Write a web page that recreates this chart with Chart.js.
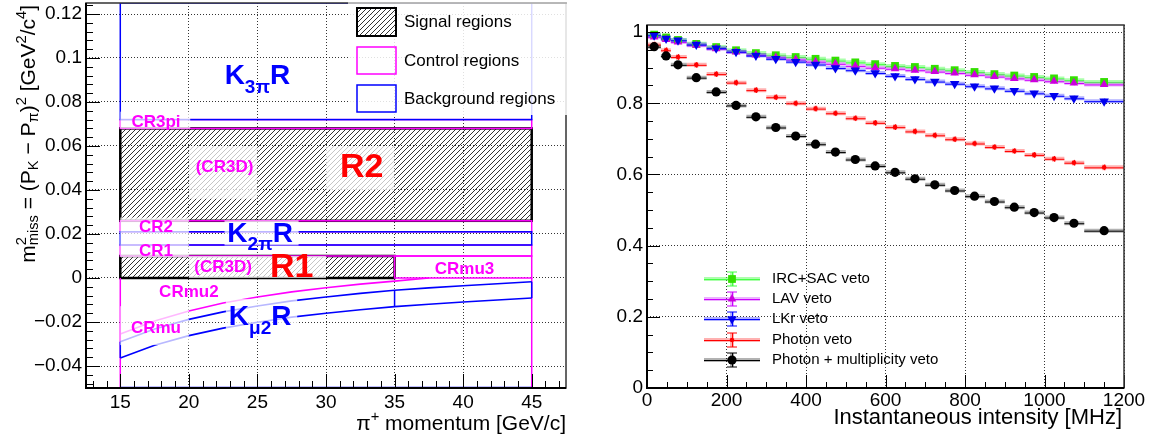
<!DOCTYPE html>
<html>
<head>
<meta charset="utf-8">
<script src="https://cdn.jsdelivr.net/npm/chart.js@4.4.0/dist/chart.umd.min.js"></script>
<style>
  html, body { margin: 0; padding: 0; background: #fff; }
  #wrap { position: relative; width: 1160px; height: 439px; overflow: hidden; }
  .pane { position: absolute; top: 0; width: 580px; height: 439px; }
</style>
</head>
<body>
<div id="wrap">
  <div class="pane" style="left:0"><canvas id="regions" width="580" height="439"></canvas></div>
  <div class="pane" style="left:580px"><canvas id="veto" width="580" height="439"></canvas></div>
</div>
<script>
// ---------------- left panel: signal / control / background regions ----------------
const momentumTicks = [15, 20, 25, 30, 35, 40, 45];
const m2Ticks = [-0.04, -0.02, 0, 0.02, 0.04, 0.06, 0.08, 0.1, 0.12];
const m2TickLabels = ['\u22120.04', '\u22120.02', '0', '0.02', '0.04', '0.06', '0.08', '0.1', '0.12'];

// boxes in (momentum, m2miss)
const regionNames = ['R1', 'R2', 'CR1', 'CR2', 'CR3pi', 'CRmu3', 'K2piR', 'K3piR'];
const regionKinds = ['signal', 'signal', 'control', 'control', 'control', 'control', 'background', 'background'];
const regionPmin = [15, 15, 15, 15, 15, 35, 15, 15];
const regionPmax = [35, 45, 45, 45, 45, 45, 45, 45];
const regionM2min = [0, 0.026, 0.010, 0.021, 0.068, 0, 0.015, 0.072];
const regionM2max = [0.010, 0.068, 0.015, 0.026, 0.072, 0.010, 0.021, 0.125];

// K_mu2 region edges
const curveMomentum = [15, 17.5, 20, 22.5, 25, 27.5, 30, 32.5, 35, 37.5, 40, 42.5, 45];
const kmu2Upper = [-0.0290, -0.0232, -0.0188, -0.0154, -0.0127, -0.0104, -0.0086, -0.0070, -0.0056, -0.0045, -0.0035, -0.0026, -0.0017];
const kmu2Lower = [-0.0364, -0.0306, -0.0262, -0.0228, -0.0201, -0.0178, -0.0160, -0.0144, -0.0130, -0.0119, -0.0109, -0.0100, -0.0091];
const crmuMomentum = [15, 17.5, 20, 22.5, 25, 27.5, 30, 32.5, 35, 37.5];
const crmuEdge = [-0.0255, -0.0195, -0.0150, -0.0114, -0.0086, -0.0063, -0.0044, -0.0028, -0.0014, 0.0];

// ---------------- right panel: random veto efficiency ----------------
const intensityTicks = [0, 200, 400, 600, 800, 1000, 1200];
const effTicks = [0, 0.2, 0.4, 0.6, 0.8, 1];
const effTickLabels = ['0', '0.2', '0.4', '0.6', '0.8', '1'];

const intensity = [18, 48, 78, 124, 174, 224, 274, 324, 374, 424, 474, 524, 574, 624, 674, 724, 774, 824, 874, 924, 974, 1024, 1074, 1150];
const binLow = [0, 35, 60, 100, 150, 200, 250, 300, 350, 400, 450, 500, 550, 600, 650, 700, 750, 800, 850, 900, 950, 1000, 1050, 1100];
const binHigh = [35, 60, 100, 150, 200, 250, 300, 350, 400, 450, 500, 550, 600, 650, 700, 750, 800, 850, 900, 950, 1000, 1050, 1100, 1200];

const effIrcSac = [0.993, 0.985, 0.978, 0.967, 0.958, 0.949, 0.941, 0.935, 0.930, 0.925, 0.920, 0.915, 0.910, 0.905, 0.902, 0.897, 0.893, 0.888, 0.882, 0.878, 0.874, 0.870, 0.865, 0.860];
const effLav = [0.986, 0.979, 0.972, 0.963, 0.953, 0.944, 0.936, 0.929, 0.923, 0.917, 0.911, 0.905, 0.900, 0.897, 0.893, 0.889, 0.885, 0.880, 0.875, 0.870, 0.866, 0.862, 0.857, 0.853];
const effLkr = [0.991, 0.982, 0.977, 0.965, 0.955, 0.945, 0.934, 0.925, 0.917, 0.909, 0.899, 0.893, 0.885, 0.877, 0.868, 0.861, 0.855, 0.848, 0.842, 0.835, 0.828, 0.821, 0.814, 0.806];
const effPhoton = [0.965, 0.949, 0.930, 0.908, 0.882, 0.858, 0.837, 0.817, 0.800, 0.785, 0.772, 0.758, 0.745, 0.733, 0.721, 0.710, 0.699, 0.687, 0.677, 0.666, 0.655, 0.644, 0.633, 0.620];
const effPhotonMult = [0.959, 0.933, 0.908, 0.872, 0.832, 0.794, 0.762, 0.732, 0.708, 0.685, 0.663, 0.642, 0.624, 0.606, 0.588, 0.571, 0.555, 0.539, 0.524, 0.508, 0.493, 0.479, 0.463, 0.442];
const effErr = [0.006, 0.006, 0.007, 0.008, 0.004];

const FONT = '"Liberation Sans", Arial, Helvetica, sans-serif';
const MAG = '#ff00ff', BLU = '#0000ff', RED = '#ff0000';

function font(size, bold) { return (bold ? 'bold ' : '') + size + 'px ' + FONT; }

// text with sub/superscripts; segs are strings or {sup, sub}
function richText(ctx, segs, x, y, size, align, opt) {
  opt = opt || {};
  const small = size * (opt.scale || 0.7);
  const supDy = opt.supDy !== undefined ? opt.supDy : -0.45 * size;
  const subDy = opt.subDy !== undefined ? opt.subDy : 0.15 * size;
  let w = 0;
  const parts = [];
  segs.forEach(sg => {
    if (typeof sg === 'string') {
      ctx.font = font(size, opt.bold);
      parts.push({ t: sg, dx: w, dy: 0, s: size });
      w += ctx.measureText(sg).width;
    } else {
      ctx.font = font(small, opt.bold);
      let mw = 0;
      if (sg.sup) { parts.push({ t: sg.sup, dx: w, dy: supDy, s: small }); mw = Math.max(mw, ctx.measureText(sg.sup).width); }
      if (sg.sub) { parts.push({ t: sg.sub, dx: w, dy: subDy, s: small }); mw = Math.max(mw, ctx.measureText(sg.sub).width); }
      w += mw;
    }
  });
  const x0 = align === 'right' ? x - w : align === 'center' ? x - w / 2 : x;
  parts.forEach(p => { ctx.font = font(p.s, opt.bold); ctx.fillText(p.t, x0 + p.dx, y + p.dy); });
  return w;
}

// ROOT-like frame with inward ticks
function drawFrame(chart, xStep, yStep, majLen, minLen) {
  const { ctx, chartArea: a, scales: { x, y } } = chart;
  const isMajor = (sc, v, st) => sc.ticks.some(t => Math.abs(t.value - v) < st / 10);
  ctx.save();
  ctx.strokeStyle = '#000';
  ctx.lineWidth = 1;
  ctx.beginPath();
  for (let i = Math.ceil(x.min / xStep); i * xStep <= x.max + 1e-9; i++) {
    const v = i * xStep, px = Math.round(x.getPixelForValue(v)) + 0.5;
    ctx.moveTo(px, a.bottom); ctx.lineTo(px, a.bottom - (isMajor(x, v, xStep) ? majLen : minLen));
  }
  for (let i = Math.ceil(y.min / yStep - 1e-9); i * yStep <= y.max + 1e-9; i++) {
    const v = i * yStep, py = Math.round(y.getPixelForValue(v)) + 0.5;
    ctx.moveTo(a.left, py); ctx.lineTo(a.left + (isMajor(y, v, yStep) ? majLen : minLen), py);
  }
  ctx.stroke();
  ctx.strokeStyle = '#333';
  ctx.lineWidth = 1.5;
  ctx.strokeRect(a.left, a.top, a.right - a.left, a.bottom - a.top);
  ctx.strokeStyle = '#000';
  ctx.lineWidth = 2;
  ctx.beginPath();
  ctx.moveTo(a.left, a.top); ctx.lineTo(a.left, a.bottom); ctx.lineTo(a.right, a.bottom);
  ctx.stroke();
  ctx.restore();
}

function makeHatch(ctx) {
  const c = document.createElement('canvas');
  c.width = 5; c.height = 5;
  const g = c.getContext('2d');
  g.strokeStyle = '#1a1a1a';
  g.lineWidth = 0.9;
  g.beginPath();
  g.moveTo(0, 5); g.lineTo(5, 0);
  g.moveTo(-1, 1); g.lineTo(1, -1);
  g.moveTo(4, 6); g.lineTo(6, 4);
  g.stroke();
  return ctx.createPattern(c, 'repeat');
}

// label annotations (momentum, m2miss centre)
const regionLabels = [
  { t: 'K', sub: '3\u03c0', tail: 'R', p: 25.0, m: 0.0915, c: BLU, s: 28 },
  { t: 'CR3pi', p: 17.6, m: 0.0706, c: MAG, s: 17 },
  { t: '(CR3D)', p: 22.6, m: 0.0501, c: MAG, s: 17 },
  { t: 'R2', p: 32.6, m: 0.0500, c: RED, s: 34 },
  { t: 'CR2', p: 17.6, m: 0.0232, c: MAG, s: 17 },
  { t: 'K', sub: '2\u03c0', tail: 'R', p: 25.2, m: 0.0200, c: BLU, s: 28 },
  { t: 'CR1', p: 17.6, m: 0.0123, c: MAG, s: 17 },
  { t: '(CR3D)', p: 22.5, m: 0.0048, c: MAG, s: 17 },
  { t: 'R1', p: 27.5, m: 0.0048, c: RED, s: 34 },
  { t: 'CRmu3', p: 40.1, m: 0.0041, c: MAG, s: 17 },
  { t: 'CRmu2', p: 20.0, m: -0.0064, c: MAG, s: 17 },
  { t: 'CRmu', p: 17.6, m: -0.0230, c: MAG, s: 17 },
  { t: 'K', sub: '\u03bc2', tail: 'R', p: 25.2, m: -0.0180, c: BLU, s: 28 }
];
const labelBoxes = [
  [15, 20.1, 0.0679, 0.0756],
  [20, 25, 0.036, 0.060],
  [30, 35, 0.040, 0.060],
  [15, 20, 0.0095, 0.0275],
  [22.6, 28, 0.0148, 0.0262],
  [20, 25, 0, 0.010],
  [25, 30, 0, 0.010],
  [15, 20, -0.0305, -0.0128],
  [22.7, 27.9, -0.0275, -0.0095]
];

const regionPlugin = {
  id: 'regionPlugin',
  beforeDatasetsDraw(chart) {
    const { ctx, chartArea: a, scales: { x, y } } = chart;
    const hatch = makeHatch(ctx);
    ctx.save();
    ctx.beginPath(); ctx.rect(a.left, a.top, a.right - a.left, a.bottom - a.top); ctx.clip();
    const rectOf = i => {
      const x0 = x.getPixelForValue(regionPmin[i]), x1 = x.getPixelForValue(regionPmax[i]);
      const y0 = y.getPixelForValue(regionM2max[i]), y1 = y.getPixelForValue(regionM2min[i]);
      return [x0, y0, x1 - x0, y1 - y0];
    };
    regionKinds.forEach((k, i) => {
      if (k !== 'signal') return;
      const r = rectOf(i);
      ctx.fillStyle = hatch; ctx.fillRect(...r);
      ctx.strokeStyle = '#000'; ctx.lineWidth = 2.5; ctx.strokeRect(...r);
    });
    ['control', 'background'].forEach(kind => {
      regionKinds.forEach((k, i) => {
        if (k !== kind) return;
        ctx.strokeStyle = kind === 'control' ? MAG : BLU;
        ctx.lineWidth = 1.5;
        ctx.strokeRect(...rectOf(i));
      });
    });
    // edges of the K_mu2 control/background strips
    ctx.strokeStyle = MAG; ctx.lineWidth = 1.5;
    ctx.beginPath();
    [15, 45].forEach(p => { const px = x.getPixelForValue(p); ctx.moveTo(px, y.getPixelForValue(0)); ctx.lineTo(px, a.bottom); });
    ctx.stroke();
    ctx.strokeStyle = BLU;
    ctx.beginPath();
    ctx.moveTo(x.getPixelForValue(15), a.bottom - 0.5); ctx.lineTo(x.getPixelForValue(45), a.bottom - 0.5);
    [0, 8, 12].forEach(j => {
      const px = x.getPixelForValue(curveMomentum[j]);
      ctx.moveTo(px, y.getPixelForValue(kmu2Upper[j])); ctx.lineTo(px, y.getPixelForValue(kmu2Lower[j]));
    });
    ctx.stroke();
    ctx.restore();
  },
  afterDatasetsDraw(chart) {
    const { ctx, scales: { x, y } } = chart;
    ctx.save();
    ctx.fillStyle = 'rgba(255,255,255,0.72)';
    labelBoxes.forEach(b => {
      const x0 = x.getPixelForValue(b[0]), x1 = x.getPixelForValue(b[1]);
      const y0 = y.getPixelForValue(b[3]), y1 = y.getPixelForValue(b[2]);
      ctx.fillRect(x0, y0, x1 - x0, y1 - y0);
    });
    ctx.textBaseline = 'middle';
    regionLabels.forEach(l => {
      ctx.fillStyle = l.c;
      const px = x.getPixelForValue(l.p), py = y.getPixelForValue(l.m);
      const segs = l.sub ? [l.t, { sub: l.sub }, l.tail] : [l.t];
      richText(ctx, segs, px, py, l.s, 'center', { bold: true, subDy: 0.4 * l.s, scale: 0.68 });
    });
    ctx.restore();
  },
  afterDraw(chart) {
    const { ctx } = chart;
    drawFrame(chart, 1, 0.004, 14, 7);
    ctx.save();
    // legend box
    ctx.fillStyle = 'rgba(255,255,255,0.85)';
    ctx.fillRect(348, 0, 219, 115);
    ctx.strokeStyle = '#888'; ctx.lineWidth = 1;
    ctx.beginPath(); ctx.moveTo(348, 3); ctx.lineTo(567, 3); ctx.stroke();
    ctx.fillStyle = makeHatch(ctx);
    ctx.fillRect(357, 8, 39, 28);
    ctx.strokeStyle = '#000'; ctx.lineWidth = 2; ctx.strokeRect(357, 8, 39, 28);
    ctx.strokeStyle = MAG; ctx.lineWidth = 1.5; ctx.strokeRect(357, 47, 39, 27);
    ctx.strokeStyle = BLU; ctx.strokeRect(357, 85, 39, 27);
    ctx.fillStyle = '#000'; ctx.font = font(17); ctx.textBaseline = 'middle';
    ctx.fillText('Signal regions', 404, 22);
    ctx.fillText('Control regions', 404, 61);
    ctx.fillText('Background regions', 404, 99);
    // axis titles
    ctx.textBaseline = 'alphabetic';
    richText(ctx, ['\u03c0', { sup: '+' }, ' momentum [GeV/c]'], 566, 430, 21, 'right');
    ctx.translate(35, 5);
    ctx.rotate(-Math.PI / 2);
    richText(ctx, ['m', { sup: '2', sub: 'miss' }, ' = (P', { sub: 'K' }, ' \u2212 P', { sub: '\u03c0' }, ')', { sup: '2' },
      ' [GeV', { sup: '2' }, '/c', { sup: '4' }, ']'], 0, 0, 21, 'right');
    ctx.restore();
  }
};

const lineSet = (data, xs, color, order) => ({
  data: xs.map((p, i) => ({ x: p, y: data[i] })),
  showLine: true, pointRadius: 0, borderColor: color, borderWidth: 1.6, fill: false, order
});

new Chart(document.getElementById('regions'), {
  type: 'scatter',
  data: {
    datasets: [
      lineSet(crmuEdge, crmuMomentum, MAG, 3),
      lineSet(kmu2Upper, curveMomentum, BLU, 2),
      lineSet(kmu2Lower, curveMomentum, BLU, 1)
    ]
  },
  options: {
    responsive: false, animation: false, devicePixelRatio: 1,
    layout: { padding: { left: 0, right: 14, top: 3, bottom: 0 } },
    plugins: { legend: { display: false }, tooltip: { enabled: false } },
    scales: {
      x: {
        type: 'linear', min: 12.5, max: 47.5,
        afterBuildTicks: s => { s.ticks = momentumTicks.map(v => ({ value: v })); },
        afterFit: s => { s.height = 51; s.paddingLeft = 0; s.paddingRight = 0; },
        ticks: { callback: (v, i) => String(momentumTicks[i]), font: { family: FONT, size: 19 }, color: '#000', padding: 3, maxRotation: 0, autoSkip: false },
        grid: { color: 'rgba(0,0,0,0.8)', lineWidth: 1, drawTicks: false },
        border: { display: false, dash: [1, 2] }
      },
      y: {
        type: 'linear', min: -0.05, max: 0.125,
        afterBuildTicks: s => { s.ticks = m2Ticks.map(v => ({ value: v })); },
        afterFit: s => { s.width = 86; s.paddingTop = 0; s.paddingBottom = 0; },
        ticks: { callback: (v, i) => m2TickLabels[i], font: { family: FONT, size: 19 }, color: '#000', padding: 4, autoSkip: false },
        grid: { color: 'rgba(0,0,0,0.8)', lineWidth: 1, drawTicks: false },
        border: { display: false, dash: [1, 2] }
      }
    }
  },
  plugins: [regionPlugin]
});

// ---------------- right chart ----------------
const vetoSeries = [
  { label: 'IRC+SAC veto', data: effIrcSac, color: '#33e000', line: '#44ff44', band: 'rgba(70,255,70,0.45)', style: 'rect', r: 5.5, rot: 0 },
  { label: 'LAV veto', data: effLav, color: '#cc00dd', line: '#cc00ff', band: 'rgba(210,60,255,0.40)', style: 'triangle', r: 5, rot: 0 },
  { label: 'LKr veto', data: effLkr, color: '#0000ee', line: '#0000ff', band: 'rgba(60,60,255,0.40)', style: 'triangle', r: 5.5, rot: 180 },
  { label: 'Photon veto', data: effPhoton, color: '#ff0000', line: '#ff0000', band: 'rgba(255,60,60,0.40)', style: 'circle', r: 2.3, rot: 0 },
  { label: 'Photon + multiplicity veto', data: effPhotonMult, color: '#000', line: '#000', band: 'rgba(0,0,0,0.30)', style: 'circle', r: 4.6, rot: 0 }
];

function errBar(ctx, s, x0, x1, px, py, e, cap) {
  ctx.strokeStyle = s.band; ctx.lineWidth = 4;
  ctx.beginPath(); ctx.moveTo(x0, py); ctx.lineTo(x1, py); ctx.moveTo(px, py - e); ctx.lineTo(px, py + e); ctx.stroke();
  ctx.strokeStyle = s.line; ctx.lineWidth = 1;
  ctx.beginPath(); ctx.moveTo(x0, py + 0.5); ctx.lineTo(x1, py + 0.5);
  ctx.moveTo(px + 0.5, py - e); ctx.lineTo(px + 0.5, py + e);
  if (cap) { ctx.moveTo(px - cap, py - e); ctx.lineTo(px + cap, py - e); ctx.moveTo(px - cap, py + e); ctx.lineTo(px + cap, py + e); }
  ctx.stroke();
}

const vetoPlugin = {
  id: 'vetoPlugin',
  beforeDatasetsDraw(chart) {
    const { ctx, scales: { x, y } } = chart;
    ctx.save();
    vetoSeries.forEach((s, i) => {
      s.data.forEach((v, j) => {
        const py = y.getPixelForValue(v);
        const e = y.getPixelForValue(v - effErr[i]) - py;
        errBar(ctx, s, x.getPixelForValue(binLow[j]), x.getPixelForValue(binHigh[j]), x.getPixelForValue(intensity[j]), py, e, 0);
      });
    });
    ctx.restore();
  },
  afterDraw(chart) {
    const { ctx } = chart;
    drawFrame(chart, 50, 0.05, 13, 6);
    ctx.save();
    const rows = [279, 299, 319, 340, 360];
    vetoSeries.forEach((s, i) => {
      const yy = rows[i];
      errBar(ctx, s, 124, 180, 152, yy, 7, 5);
      ctx.fillStyle = s.color; ctx.strokeStyle = s.color;
      Chart.helpers.drawPoint(ctx, { pointStyle: s.style, radius: s.r, rotation: s.rot, borderWidth: 0 }, 152, yy);
      ctx.fillStyle = '#000'; ctx.font = font(15); ctx.textBaseline = 'middle';
      ctx.fillText(s.label, 192, yy);
    });
    ctx.textBaseline = 'alphabetic';
    ctx.fillStyle = '#000';
    richText(ctx, ['Instantaneous intensity [MHz]'], 542, 424, 22, 'right');
    ctx.translate(603, 28);
    ctx.rotate(-Math.PI / 2);
    richText(ctx, ['Random veto efficiency, \u03b5', { sub: 'RV' }], 0, 0, 21, 'right');
    ctx.restore();
  }
};

new Chart(document.getElementById('veto'), {
  type: 'scatter',
  data: {
    datasets: vetoSeries.map((s, i) => ({
      label: s.label,
      data: intensity.map((v, j) => ({ x: v, y: s.data[j] })),
      showLine: false,
      pointStyle: s.style, pointRadius: s.r, pointRotation: s.rot,
      pointBackgroundColor: s.color, pointBorderColor: s.color, pointBorderWidth: 0,
      order: 5 - i
    }))
  },
  options: {
    responsive: false, animation: false, devicePixelRatio: 1,
    layout: { padding: { left: 0, right: 36, top: 25, bottom: 0 } },
    plugins: { legend: { display: false }, tooltip: { enabled: false } },
    scales: {
      x: {
        type: 'linear', min: 0, max: 1200,
        afterBuildTicks: s => { s.ticks = intensityTicks.map(v => ({ value: v })); },
        afterFit: s => { s.height = 51; s.paddingLeft = 0; s.paddingRight = 0; },
        ticks: { callback: (v, i) => String(intensityTicks[i]), font: { family: FONT, size: 19 }, color: '#000', padding: 1, maxRotation: 0, autoSkip: false },
        grid: { color: 'rgba(0,0,0,0.8)', lineWidth: 1, drawTicks: false },
        border: { display: false, dash: [1, 2] }
      },
      y: {
        type: 'linear', min: 0, max: 1.02,
        afterBuildTicks: s => { s.ticks = effTicks.map(v => ({ value: v })); },
        afterFit: s => { s.width = 67; s.paddingTop = 0; s.paddingBottom = 0; },
        ticks: { callback: (v, i) => effTickLabels[i], font: { family: FONT, size: 19 }, color: '#000', padding: 4, autoSkip: false },
        grid: { color: 'rgba(0,0,0,0.8)', lineWidth: 1, drawTicks: false },
        border: { display: false, dash: [1, 2] }
      }
    }
  },
  plugins: [vetoPlugin]
});
</script>
</body>
</html>
